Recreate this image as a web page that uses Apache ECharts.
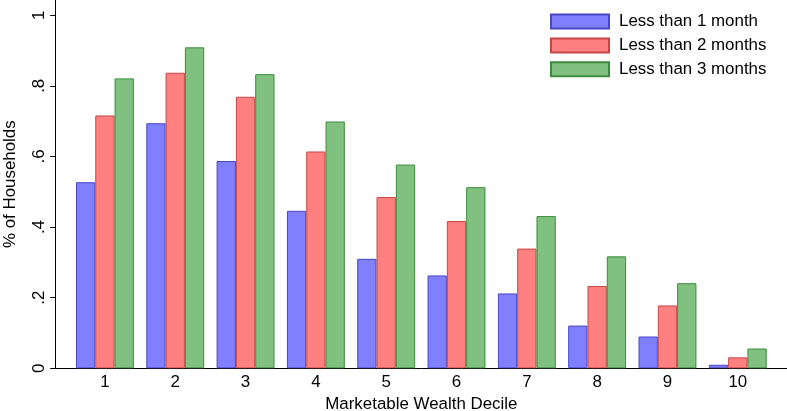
<!DOCTYPE html>
<html>
<head>
<meta charset="utf-8">
<script src="https://cdn.jsdelivr.net/npm/echarts@6/dist/echarts.min.js"></script>
<style>
html,body{margin:0;padding:0;background:#fff;}
#chart{width:787px;height:411px;}
</style>
</head>
<body>
<div id="chart"></div>
<script>
const deciles = [1, 2, 3, 4, 5, 6, 7, 8, 9, 10];
const lessThan1Month = [0.527, 0.694, 0.587, 0.446, 0.310, 0.263, 0.212, 0.121, 0.090, 0.010];
const lessThan2Months = [0.716, 0.837, 0.769, 0.614, 0.485, 0.417, 0.339, 0.233, 0.178, 0.031];
const lessThan3Months = [0.821, 0.909, 0.833, 0.699, 0.577, 0.513, 0.431, 0.317, 0.241, 0.056];
const yTicks = [0, 0.2, 0.4, 0.6, 0.8, 1];
const seriesNames = ['Less than 1 month', 'Less than 2 months', 'Less than 3 months'];

const FONT = 'Liberation Sans, Arial, Helvetica, sans-serif';
const FS = 16.9;

function pairs(vals) { return deciles.map((d, i) => [d, vals[i]]); }
function yFmt(v) {
  if (Math.abs(v) < 1e-9) return '0';
  if (Math.abs(v - 1) < 1e-9) return '1';
  return '.' + Math.round(v * 10);
}

const styles = [
  { color: '#8080ff', borderColor: '#4646c8' },
  { color: '#ff8080', borderColor: '#c84646' },
  { color: '#80c080', borderColor: '#3c8c3c' }
];
const data = [lessThan1Month, lessThan2Months, lessThan3Months];

const chart = echarts.init(document.getElementById('chart'), null, { renderer: 'canvas' });
chart.setOption({
  backgroundColor: '#ffffff',
  animation: false,
  textStyle: { fontFamily: FONT },
  grid: { left: 55.7, right: 0, top: 0, bottom: 42.7, containLabel: false, outerBoundsMode: 'none' },
  legend: {
    orient: 'vertical',
    left: 550,
    top: 13,
    icon: 'rect',
    itemWidth: 58,
    itemHeight: 14,
    itemGap: 6.9,
    padding: 0,
    textStyle: { fontFamily: FONT, fontSize: FS, color: '#000', padding: [0, 0, 0, 5] },
    data: seriesNames
  },
  xAxis: {
    type: 'value',
    min: 0.3,
    max: 10.7,
    name: 'Marketable Wealth Decile',
    nameLocation: 'middle',
    nameGap: 27,
    nameTextStyle: { fontFamily: FONT, fontSize: FS, color: '#000' },
    axisLine: { show: true, onZero: false, lineStyle: { color: '#000', width: 1 } },
    axisTick: { show: false },
    splitLine: { show: false },
    axisLabel: {
      customValues: deciles,
      margin: 6,
      fontFamily: FONT,
      fontSize: FS,
      color: '#000',
      formatter: v => String(v)
    }
  },
  yAxis: {
    type: 'value',
    min: 0,
    max: 1.043,
    name: '% of Households',
    nameLocation: 'middle',
    nameRotate: 90,
    nameGap: 37,
    nameTextStyle: { fontFamily: FONT, fontSize: FS, color: '#000' },
    axisLine: { show: true, lineStyle: { color: '#000', width: 1 } },
    axisTick: { show: true, customValues: yTicks, length: 5.5, lineStyle: { color: '#000', width: 1 } },
    splitLine: { show: false },
    axisLabel: {
      customValues: yTicks,
      rotate: 90,
      margin: 8,
      fontFamily: FONT,
      fontSize: FS,
      color: '#000',
      formatter: yFmt
    }
  },
  series: seriesNames.map((n, i) => ({
    name: n,
    type: 'bar',
    data: pairs(data[i]),
    barWidth: 19.3,
    barGap: '0%',
    itemStyle: { color: styles[i].color, borderColor: styles[i].borderColor, borderWidth: 1 }
  }))
});
</script>
</body>
</html>
